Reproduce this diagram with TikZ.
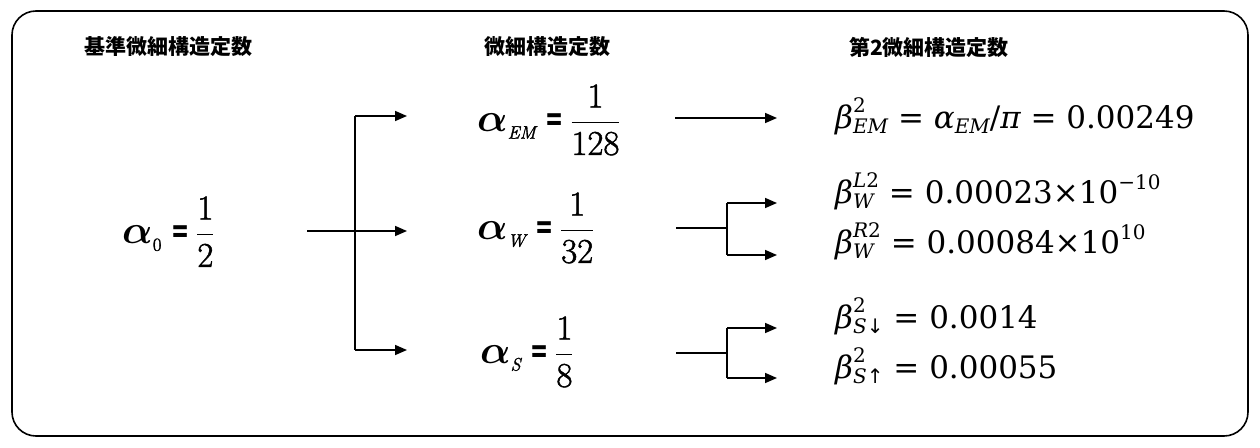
\documentclass[tikz,border=0pt]{standalone}
\usepackage{amsmath}
\usepackage{fontspec}
\newfontfamily\dvs{DejaVu Serif}
\newfontfamily\dvsans{DejaVu Sans}
\newfontfamily\cjk{Noto Sans CJK JP}
\newfontfamily\lmh{Latin Modern Roman}[FakeBold=1.5]
\usetikzlibrary{arrows.meta}
% alpha equations
\newcommand{\aeq}[3]{\scalebox{1.4}{\Huge\scalebox{1.15}{$\boldsymbol{\alpha}$}\raisebox{-0.22em}{\lmh\fontsize{13}{13}\selectfont #1}\hspace{0.28em}\raisebox{0.02em}{\scalebox{0.62}[1]{\dvsans\bfseries =}}\hspace{0.18em}$\dfrac{\hbox{\lmh #2}}{\hbox{\lmh #3}}$}}
% beta equations (DejaVu Serif text)
\newcommand{\bsupsub}[2]{\begingroup\fontsize{20}{20}\selectfont\setbox0=\hbox{#1}\setbox2=\hbox{#2}\ifdim\wd0>\wd2 \dimen0=\wd0 \else\dimen0=\wd2 \fi\rlap{\raise 16pt\box0}\rlap{\lower 5pt\box2}\hspace{\dimen0}\endgroup}
\newcommand{\lsub}[1]{\raisebox{-5pt}{\fontsize{20}{20}\selectfont #1}}
\newcommand{\lsup}[1]{\raisebox{14pt}{\fontsize{20}{20}\selectfont #1}}
\begin{document}
\begin{tikzpicture}[x=1pt,y=-1pt,
  head/.style={font=\cjk\bfseries\fontsize{21}{24}\selectfont, inner sep=0pt},
  aeqn/.style={anchor=base west, inner sep=0pt},
  beqn/.style={anchor=base west, inner sep=0pt, font=\dvs\fontsize{31}{36}\selectfont},
  conn/.style={line width=1.6pt},
  arr/.style={line width=1.6pt, -{Triangle[length=12pt,width=10pt]}}]
\useasboundingbox (0,0) rectangle (1260,447);
\draw[line width=1.6pt, rounded corners=24pt] (12,11) rectangle (1248,436);
% headings
\node[head] (h1) at (168,47) {基準微細構造定数};
\node[head] (h2) at (547,47) {微細構造定数};
\node[head] (h3) at (929,47) {第2微細構造定数};
% alpha equations
\node[aeqn] (a0) at (122,243) {\aeq{0}{1}{2}};
\node[aeqn] (aem) at (477,131) {\aeq{\itshape EM}{1}{128}};
\node[aeqn] (aw) at (477,239) {\aeq{\itshape W}{1}{32}};
\node[aeqn] (as) at (480,363) {\aeq{\itshape S}{1}{8}};
% beta equations
\node[beqn] (bem) at (835,128) {{\itshape β}\bsupsub{2}{\itshape EM} = {\itshape α}\lsub{\itshape EM}/{\itshape π} = 0.00249};
\node[beqn] (bwl) at (835,203) {{\itshape β}\bsupsub{{\itshape L}2}{\itshape W} = 0.00023×10\lsup{−10}};
\node[beqn] (bwr) at (835,253) {{\itshape β}\bsupsub{{\itshape R}2}{\itshape W} = 0.00084×10\lsup{10}};
\node[beqn] (bsd) at (835,328) {{\itshape β}\bsupsub{2}{{\itshape S}{\dvsans ↓}} = 0.0014};
\node[beqn] (bsu) at (835,378) {{\itshape β}\bsupsub{2}{{\itshape S}{\dvsans ↑}} = 0.00055};
% left connector coordinates
\coordinate (l0) at (307,231);
\coordinate (lt) at (355,116);
\coordinate (lb) at (355,350);
\coordinate (et) at (407,116);
\coordinate (em) at (407,231);
\coordinate (eb) at (407,350);
\draw[conn] (lt) -- (lb);
\draw[arr] (l0) -- (em);
\draw[arr] (lt) -- (et);
\draw[arr] (lb) -- (eb);
% right connectors
\coordinate (r1s) at (675,118);
\coordinate (r1e) at (777,118);
\draw[arr] (r1s) -- (r1e);
\coordinate (r2s) at (676,228);
\coordinate (r2m) at (727,228);
\coordinate (r2t) at (727,203);
\coordinate (r2b) at (727,255);
\coordinate (r2te) at (777,203);
\coordinate (r2be) at (777,255);
\draw[conn] (r2s) -- (r2m);
\draw[conn] (r2t) -- (r2b);
\draw[arr] (r2t) -- (r2te);
\draw[arr] (r2b) -- (r2be);
\coordinate (r3s) at (676,353);
\coordinate (r3m) at (727,353);
\coordinate (r3t) at (727,328);
\coordinate (r3b) at (727,378);
\coordinate (r3te) at (777,328);
\coordinate (r3be) at (777,378);
\draw[conn] (r3s) -- (r3m);
\draw[conn] (r3t) -- (r3b);
\draw[arr] (r3t) -- (r3te);
\draw[arr] (r3b) -- (r3be);
\end{tikzpicture}
\end{document}
